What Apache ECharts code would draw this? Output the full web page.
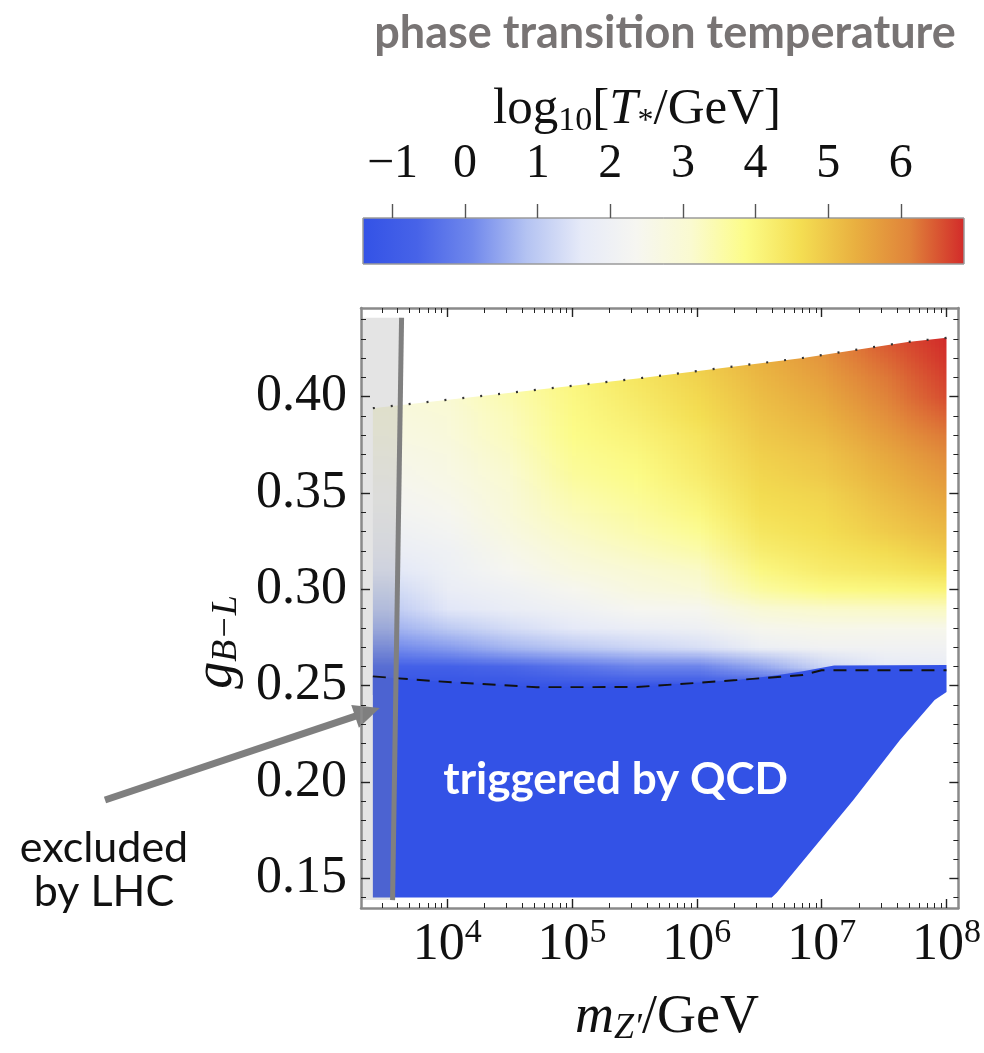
<!DOCTYPE html>
<html>
<head>
<meta charset="utf-8">
<script src="https://cdn.jsdelivr.net/npm/echarts@6/dist/echarts.min.js"></script>
<style>
  html, body { margin: 0; padding: 0; background: #ffffff; }
  #chart { width: 984px; height: 1053px; }
</style>
</head>
<body>
<div id="chart"></div>
<script>
// ---- log10(T*/GeV) over the (m_Z', g_B-L) plane ----
// columns: log10(m_Z'/GeV)
const massLog = [3.5, 4.0, 4.5, 5.0, 5.5, 6.0, 6.5, 7.0, 7.5, 8.0];
// rows: g_B-L
const couplingRows = [0.25, 0.26, 0.27, 0.28, 0.29, 0.30, 0.31, 0.32, 0.33, 0.34,
                      0.35, 0.36, 0.37, 0.38, 0.39, 0.40, 0.41, 0.42, 0.43, 0.44];
// one row per coupling, one entry per mass column
const logT = [
  [-1.3, -1.3, -1.3, -1.3, -1.3, -1.3, -1.3, -1.3, 1.4, 1.6],
  [-0.8, -0.8, -0.6, -0.3, 0.0, 0.0, 0.5, 1.2, 1.6, 1.8],
  [0.1, 0.35, 0.7, 0.95, 1.2, 1.4, 1.9, 2.1, 2.1, 2.1],
  [0.6, 1.0, 1.35, 1.6, 1.85, 2.0, 2.45, 2.55, 2.5, 2.5],
  [0.95, 1.55, 1.8, 2.05, 2.35, 2.4, 3.0, 3.15, 3.2, 3.25],
  [1.25, 1.8, 2.05, 2.4, 2.75, 2.95, 3.6, 3.9, 3.97, 4.05],
  [1.55, 1.95, 2.35, 2.75, 3.0, 3.2, 3.95, 4.25, 4.4, 4.6],
  [1.8, 2.05, 2.55, 3.0, 3.25, 3.5, 4.2, 4.45, 4.65, 4.95],
  [2.0, 2.2, 2.75, 3.2, 3.45, 3.75, 4.4, 4.6, 4.9, 5.2],
  [2.15, 2.4, 2.9, 3.35, 3.6, 3.95, 4.55, 4.7, 5.05, 5.4],
  [2.3, 2.55, 3.0, 3.5, 3.75, 4.1, 4.65, 4.8, 5.2, 5.6],
  [2.45, 2.65, 3.1, 3.65, 3.87, 4.25, 4.75, 4.95, 5.35, 5.8],
  [2.55, 2.75, 3.2, 3.75, 3.97, 4.35, 4.85, 5.05, 5.5, 6.0],
  [2.65, 2.85, 3.3, 3.85, 4.08, 4.45, 4.95, 5.2, 5.7, 6.2],
  [2.75, 2.95, 3.35, 3.9, 4.2, 4.6, 5.05, 5.35, 5.9, 6.4],
  [2.85, 3.05, 3.45, 3.95, 4.3, 4.7, 5.15, 5.5, 6.1, 6.6],
  [2.95, 3.15, 3.55, 4.0, 4.4, 4.8, 5.25, 5.65, 6.2, 6.7],
  [3.05, 3.25, 3.65, 4.05, 4.5, 4.9, 5.35, 5.8, 6.35, 6.8],
  [3.1, 3.35, 3.75, 4.1, 4.6, 5.0, 5.45, 5.9, 6.5, 6.87],
  [3.15, 3.45, 3.85, 4.15, 4.7, 5.1, 5.55, 6.0, 6.6, 6.87]
];

// upper edge of the scanned region (dotted)
const topEdgeLogM = [3.405, 5.56, 6.85, 7.69, 8.0];
const topEdgeG = [0.394, 0.4097, 0.4201, 0.4284, 0.4305];
// region where the transition is triggered by QCD (uniform T*)
const qcdValue = -1.4;
const qcdTopLogM = [3.405, 3.93, 4.72, 5.52, 6.32, 6.6, 6.85, 7.1, 8.0];
const qcdTopG = [0.2548, 0.2522, 0.2492, 0.2493, 0.2529, 0.2550, 0.2575, 0.2605, 0.2607];
const cutLogM = [8.0, 7.905, 7.627, 7.254, 6.64, 6.6];
const cutG = [0.2467, 0.2426, 0.2218, 0.1906, 0.1425, 0.140];
const regionMinLogM = 3.405;
const regionMaxLogM = 8.0;
const regionMinG = 0.140;
// dashed boundary
const dashLogM = [3.405, 3.93, 4.72, 5.52, 6.32, 6.85, 7.0, 8.0];
const dashG = [0.2548, 0.2522, 0.2492, 0.2493, 0.2529, 0.2555, 0.258, 0.258];
// LHC exclusion band and its edge line
const lhcEdgeLogM = [3.635, 3.563];
const lhcEdgeG = [0.4409, 0.1387];

// axes
const massRange = [3.31, 8.095];
const gRange = [0.1346, 0.446];
const massTicks = [4, 5, 6, 7, 8];
const gTicks = [0.15, 0.20, 0.25, 0.30, 0.35, 0.40];
const colorTicks = [-1, 0, 1, 2, 3, 4, 5, 6];
const colorRange = [-1.405, 6.87];
const palette = ['#3352e6', '#4763e8', '#7088ec', '#b4c3f2', '#e6eaf8', '#f6f6f1',
                 '#fafad0', '#fcfc88', '#f4de52', '#e9b040', '#e0833a', '#d22a2a'];

const massMinor = [];
for (let n = 3; n <= 7; n++) {
  for (let k = 2; k <= 9; k++) {
    const v = n + Math.log10(k);
    if (v > massRange[0] && v < massRange[1]) massMinor.push(v);
  }
}
const gMinor = [];
for (let i = 14; i <= 44; i++) {
  if (i % 5 !== 0) gMinor.push(i / 100);
}

function colorOf(v) {
  const t = Math.max(0, Math.min(1, (v - colorRange[0]) / (colorRange[1] - colorRange[0])));
  return echarts.color.lerp(t, palette);
}

// value grid -> small bitmap, smoothed when the chart scales it onto the axes
const fieldCanvas = document.createElement('canvas');
fieldCanvas.width = massLog.length;
fieldCanvas.height = couplingRows.length;
(function () {
  const ctx = fieldCanvas.getContext('2d');
  const img = ctx.createImageData(fieldCanvas.width, fieldCanvas.height);
  for (let r = 0; r < couplingRows.length; r++) {
    for (let c = 0; c < massLog.length; c++) {
      const rgba = echarts.color.parse(colorOf(logT[r][c]));
      const py = couplingRows.length - 1 - r;
      const idx = (py * massLog.length + c) * 4;
      img.data[idx] = rgba[0];
      img.data[idx + 1] = rgba[1];
      img.data[idx + 2] = rgba[2];
      img.data[idx + 3] = 255;
    }
  }
  ctx.putImageData(img, 0, 0);
})();
const dM = massLog[1] - massLog[0];
const dG = couplingRows[1] - couplingRows[0];

const zip = (xs, ys) => xs.map((x, i) => [x, ys[i]]);
const topEdge = zip(topEdgeLogM, topEdgeG);
const qcdTop = zip(qcdTopLogM, qcdTopG);
const cutEdge = zip(cutLogM, cutG);

const maskTop = [[3.2, 0.47], [8.3, 0.47], [8.3, 0.12], [regionMaxLogM, 0.12]]
  .concat(topEdge.slice().reverse())
  .concat([[regionMinLogM, 0.12], [3.2, 0.12]]);
const maskCorner = [[6.6, 0.12]].concat(cutEdge.slice().reverse()).concat([[8.3, cutG[0]], [8.3, 0.12]]);
const qcdRegion = [[regionMinLogM, regionMinG]].concat(qcdTop).concat(cutEdge);
const lhcBand = [[3.2, lhcEdgeG[0]], [lhcEdgeLogM[0], lhcEdgeG[0]], [lhcEdgeLogM[1], lhcEdgeG[1]], [3.2, lhcEdgeG[1]]];

function polygonSeries(points, fill, z) {
  return {
    type: 'custom', xAxisIndex: 0, yAxisIndex: 0, clip: true, z: z, silent: true,
    data: [[points[0][0], points[0][1]]],
    renderItem: function (params, api) {
      return {
        type: 'polygon',
        shape: { points: points.map(p => api.coord(p)) },
        style: { fill: fill, stroke: null }
      };
    }
  };
}

const serif = 'Liberation Serif';
const tickColor = '#222';
const frameColor = '#8a8a8a';
const tickFont = 52;

const chart = echarts.init(document.getElementById('chart'), null, { renderer: 'canvas' });

function frameAxis(base, extra) {
  return Object.assign({
    type: 'value', z: 10, splitLine: { show: false }, axisLabel: { show: false }
  }, base, extra);
}

const option = {
  animation: false,
  backgroundColor: '#ffffff',
  grid: [
    { left: 361, top: 308, width: 603, height: 600, show: false },
    { left: 363, top: 218, width: 601, height: 46, show: false }
  ],
  xAxis: [
    frameAxis({ gridIndex: 0, position: 'bottom', min: massRange[0], max: massRange[1] }, {
      axisLine: { show: true, onZero: false, lineStyle: { color: frameColor, width: 2.5 } },
      axisTick: { show: true, inside: true, length: 9, customValues: massTicks, lineStyle: { color: tickColor, width: 1.4 } },
      axisLabel: { show: true, customValues: massTicks, margin: 8,
        formatter: v => '{b|10}{s|' + Math.round(v) + '}',
        rich: {
          b: { fontFamily: serif, fontSize: tickFont, color: '#111', lineHeight: 58 },
          s: { fontFamily: serif, fontSize: 34, color: '#111', lineHeight: 34, verticalAlign: 'top' }
        } }
    }),
    frameAxis({ gridIndex: 0, position: 'bottom', min: massRange[0], max: massRange[1] }, {
      axisLine: { show: false, onZero: false },
      axisTick: { show: true, inside: true, length: 5, customValues: massMinor, lineStyle: { color: tickColor, width: 1 } }
    }),
    frameAxis({ gridIndex: 0, position: 'top', min: massRange[0], max: massRange[1] }, {
      axisLine: { show: true, onZero: false, lineStyle: { color: frameColor, width: 2.5 } },
      axisTick: { show: true, inside: true, length: 9, customValues: massTicks, lineStyle: { color: tickColor, width: 1.4 } }
    }),
    frameAxis({ gridIndex: 0, position: 'top', min: massRange[0], max: massRange[1] }, {
      axisLine: { show: false, onZero: false },
      axisTick: { show: true, inside: true, length: 5, customValues: massMinor, lineStyle: { color: tickColor, width: 1 } }
    }),
    frameAxis({ gridIndex: 1, position: 'top', min: colorRange[0], max: colorRange[1] }, {
      axisLine: { show: false, onZero: false },
      axisTick: { show: true, inside: false, length: 14, customValues: colorTicks, lineStyle: { color: '#555', width: 1.4 } },
      axisLabel: { show: true, customValues: colorTicks, margin: 30, fontFamily: serif, fontSize: 48, color: '#111',
        formatter: v => (v < 0 ? '\u2212' + Math.abs(v) : String(v)) }
    })
  ],
  yAxis: [
    frameAxis({ gridIndex: 0, position: 'left', min: gRange[0], max: gRange[1] }, {
      axisLine: { show: true, onZero: false, lineStyle: { color: frameColor, width: 2.5 } },
      axisTick: { show: true, inside: true, length: 9, customValues: gTicks, lineStyle: { color: tickColor, width: 1.4 } },
      axisLabel: { show: true, customValues: gTicks, margin: 14, fontFamily: serif, fontSize: tickFont, color: '#111',
        formatter: v => v.toFixed(2) }
    }),
    frameAxis({ gridIndex: 0, position: 'left', min: gRange[0], max: gRange[1] }, {
      axisLine: { show: false, onZero: false },
      axisTick: { show: true, inside: true, length: 5, customValues: gMinor, lineStyle: { color: tickColor, width: 1 } }
    }),
    frameAxis({ gridIndex: 0, position: 'right', min: gRange[0], max: gRange[1] }, {
      axisLine: { show: true, onZero: false, lineStyle: { color: frameColor, width: 2.5 } },
      axisTick: { show: true, inside: true, length: 9, customValues: gTicks, lineStyle: { color: tickColor, width: 1.4 } }
    }),
    frameAxis({ gridIndex: 0, position: 'right', min: gRange[0], max: gRange[1] }, {
      axisLine: { show: false, onZero: false },
      axisTick: { show: true, inside: true, length: 5, customValues: gMinor, lineStyle: { color: tickColor, width: 1 } }
    }),
    { type: 'value', gridIndex: 1, min: 0, max: 1, show: false, axisLine: { onZero: false } }
  ],
  series: [
    // smooth T* field
    {
      type: 'custom', xAxisIndex: 0, yAxisIndex: 0, clip: true, z: 1, silent: true,
      data: [[massLog[0], couplingRows[0]]],
      renderItem: function (params, api) {
        const p0 = api.coord([massLog[0] - dM / 2, couplingRows[couplingRows.length - 1] + dG / 2]);
        const p1 = api.coord([massLog[massLog.length - 1] + dM / 2, couplingRows[0] - dG / 2]);
        return {
          type: 'image',
          style: { image: fieldCanvas, x: p0[0], y: p0[1], width: p1[0] - p0[0], height: p1[1] - p0[1] }
        };
      }
    },
    polygonSeries(maskTop, '#ffffff', 2),
    polygonSeries(maskCorner, '#ffffff', 2),
    polygonSeries(qcdRegion, colorOf(qcdValue), 3),
    polygonSeries(lhcBand, 'rgba(150,150,150,0.26)', 4),
    { type: 'line', xAxisIndex: 0, yAxisIndex: 0, z: 5, silent: true, symbol: 'none',
      data: zip(dashLogM, dashG),
      lineStyle: { color: '#111', width: 1.9, type: [13, 9] } },
    { type: 'line', xAxisIndex: 0, yAxisIndex: 0, z: 5, silent: true, symbol: 'none',
      data: topEdge,
      lineStyle: { color: '#333', width: 2.2, type: [2, 16] } },
    { type: 'line', xAxisIndex: 0, yAxisIndex: 0, z: 6, silent: true, symbol: 'none',
      data: zip(lhcEdgeLogM, lhcEdgeG),
      lineStyle: { color: '#808080', width: 5, type: 'solid' } },
    // colour scale bar
    {
      type: 'custom', xAxisIndex: 4, yAxisIndex: 4, z: 1, silent: true,
      data: [[colorRange[0], 0]],
      renderItem: function (params, api) {
        const p0 = api.coord([colorRange[0], 1]);
        const p1 = api.coord([colorRange[1], 0]);
        const stops = palette.map((c, i) => ({ offset: i / (palette.length - 1), color: c }));
        return {
          type: 'rect',
          shape: { x: p0[0], y: p0[1], width: p1[0] - p0[0], height: p1[1] - p0[1] },
          style: { fill: new echarts.graphic.LinearGradient(0, 0, 1, 0, stops), stroke: '#9a9a9a', lineWidth: 1 }
        };
      }
    }
  ]
};
chart.setOption(option);

// annotations
const tip = chart.convertToPixel({ gridIndex: 0 }, [3.46, 0.2384]);
const qcdLabel = chart.convertToPixel({ gridIndex: 0 }, [5.35, 0.201]);
const tail = [105, 800];
const dx = tip[0] - tail[0], dy = tip[1] - tail[1];
const len = Math.sqrt(dx * dx + dy * dy);
const ux = dx / len, uy = dy / len;
const headLen = 26, headHalf = 12;
const base = [tip[0] - ux * headLen, tip[1] - uy * headLen];

chart.setOption({
  graphic: [
    { type: 'text', x: 665, y: 33, z: 10,
      style: { text: 'phase transition temperature', fill: '#787474', font: 'bold 45px Lato', align: 'center', verticalAlign: 'middle' } },
    { type: 'text', x: 637, y: 110, z: 10,
      style: {
        text: '{a|log}{s|10}{a|[}{i|T}{t|*}{a|/GeV]}', align: 'center', verticalAlign: 'middle',
        rich: {
          a: { fontFamily: serif, fontSize: 51, fill: '#111', lineHeight: 56, verticalAlign: 'middle' },
          i: { fontFamily: serif, fontStyle: 'italic', fontSize: 51, fill: '#111', lineHeight: 56, verticalAlign: 'middle' },
          s: { fontFamily: serif, fontSize: 34, fill: '#111', lineHeight: 34, verticalAlign: 'bottom' },
          t: { fontFamily: serif, fontSize: 32, fill: '#111', lineHeight: 26, verticalAlign: 'bottom' }
        }
      } },
    { type: 'text', x: 217, y: 642, rotation: Math.PI / 2, z: 10,
      style: {
        text: '{i|g}{s|B\u2212L}', align: 'center', verticalAlign: 'middle',
        rich: {
          i: { fontFamily: serif, fontStyle: 'italic', fontSize: 54, fill: '#111', lineHeight: 56 },
          s: { fontFamily: serif, fontStyle: 'italic', fontSize: 36, fill: '#111', lineHeight: 34, verticalAlign: 'bottom' }
        }
      } },
    { type: 'text', x: 667, y: 1018, z: 10,
      style: {
        text: '{i|m}{s|Z\u2032}{a|/GeV}', align: 'center', verticalAlign: 'middle',
        rich: {
          i: { fontFamily: serif, fontStyle: 'italic', fontSize: 54, fill: '#111', lineHeight: 58 },
          a: { fontFamily: serif, fontSize: 54, fill: '#111', lineHeight: 58 },
          s: { fontFamily: serif, fontStyle: 'italic', fontSize: 36, fill: '#111', lineHeight: 34, verticalAlign: 'bottom' }
        }
      } },
    { type: 'text', x: qcdLabel[0], y: qcdLabel[1], z: 10,
      style: { text: 'triggered by QCD', fill: '#ffffff', font: 'bold 44px Lato', align: 'center', verticalAlign: 'middle' } },
    { type: 'text', x: 104, y: 848, z: 10,
      style: { text: 'excluded', fill: '#111', font: '43px Lato', align: 'center', verticalAlign: 'middle' } },
    { type: 'text', x: 104, y: 892, z: 10,
      style: { text: 'by LHC', fill: '#111', font: '43px Lato', align: 'center', verticalAlign: 'middle' } },
    { type: 'line', z: 10,
      shape: { x1: tail[0], y1: tail[1], x2: base[0] + ux * 2, y2: base[1] + uy * 2 },
      style: { stroke: '#7f7f7f', lineWidth: 7 } },
    { type: 'polygon', z: 10,
      shape: { points: [tip, [base[0] - uy * headHalf, base[1] + ux * headHalf], [base[0] + uy * headHalf, base[1] - ux * headHalf]] },
      style: { fill: '#7f7f7f' } }
  ]
});
</script>
</body>
</html>
